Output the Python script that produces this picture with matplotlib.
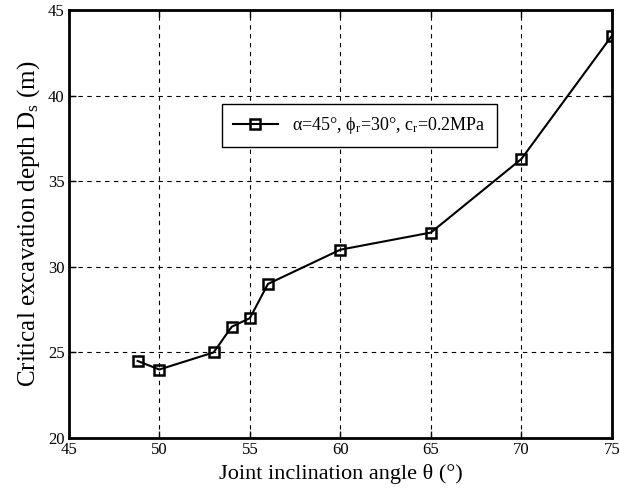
import matplotlib
matplotlib.use("Agg")
import matplotlib.pyplot as plt

# joint inclination angle (deg) vs critical excavation depth (m)
theta = [48.8, 50, 53, 54, 55, 56, 60, 65, 70, 75]
depth = [24.5, 24.0, 25.0, 26.5, 27.0, 29.0, 31.0, 32.0, 36.3, 43.5]

x_ticks = [45, 50, 55, 60, 65, 70, 75]
y_ticks = [20, 25, 30, 35, 40, 45]

plt.rcParams["font.family"] = ["Liberation Serif", "DejaVu Serif"]
plt.rcParams["mathtext.fontset"] = "custom"
plt.rcParams["mathtext.rm"] = "Liberation Serif"
plt.rcParams["mathtext.it"] = "Liberation Serif:italic"

fig = plt.figure(figsize=(6.2, 5), dpi=100)
ax = fig.add_axes([0.111, 0.124, 0.876, 0.856])

ax.plot(theta, depth, color="black", lw=1.5, marker="s", ms=7,
        mfc="none", mec="black", mew=1.8,
        label="α=45°, ϕ$_\\mathregular{r}$=30°, c$_\\mathregular{r}$=0.2MPa")

ax.set_xlim(45, 75)
ax.set_ylim(20, 45)
ax.set_xticks(x_ticks)
ax.set_yticks(y_ticks)
ax.grid(True, color="black", ls=(0, (4, 4)), lw=0.8)
ax.tick_params(direction="in", top=True, right=True, labelsize=12,
               length=5, width=1, pad=3)
for s in ax.spines.values():
    s.set_linewidth(2)

ax.set_xlabel("Joint inclination angle θ (°)", fontsize=16, labelpad=4)
ax.set_ylabel("Critical excavation depth D$_\\mathregular{s}$ (m)", fontsize=18, labelpad=4)

leg = ax.legend(loc="upper left", bbox_to_anchor=(0.282, 0.78), borderaxespad=0,
                fontsize=13, fancybox=False, framealpha=1, handlelength=2.5,
                borderpad=0.6)
leg.get_frame().set_edgecolor("black")
leg.get_frame().set_linewidth(1)

fig.savefig("out.png", dpi=100)
